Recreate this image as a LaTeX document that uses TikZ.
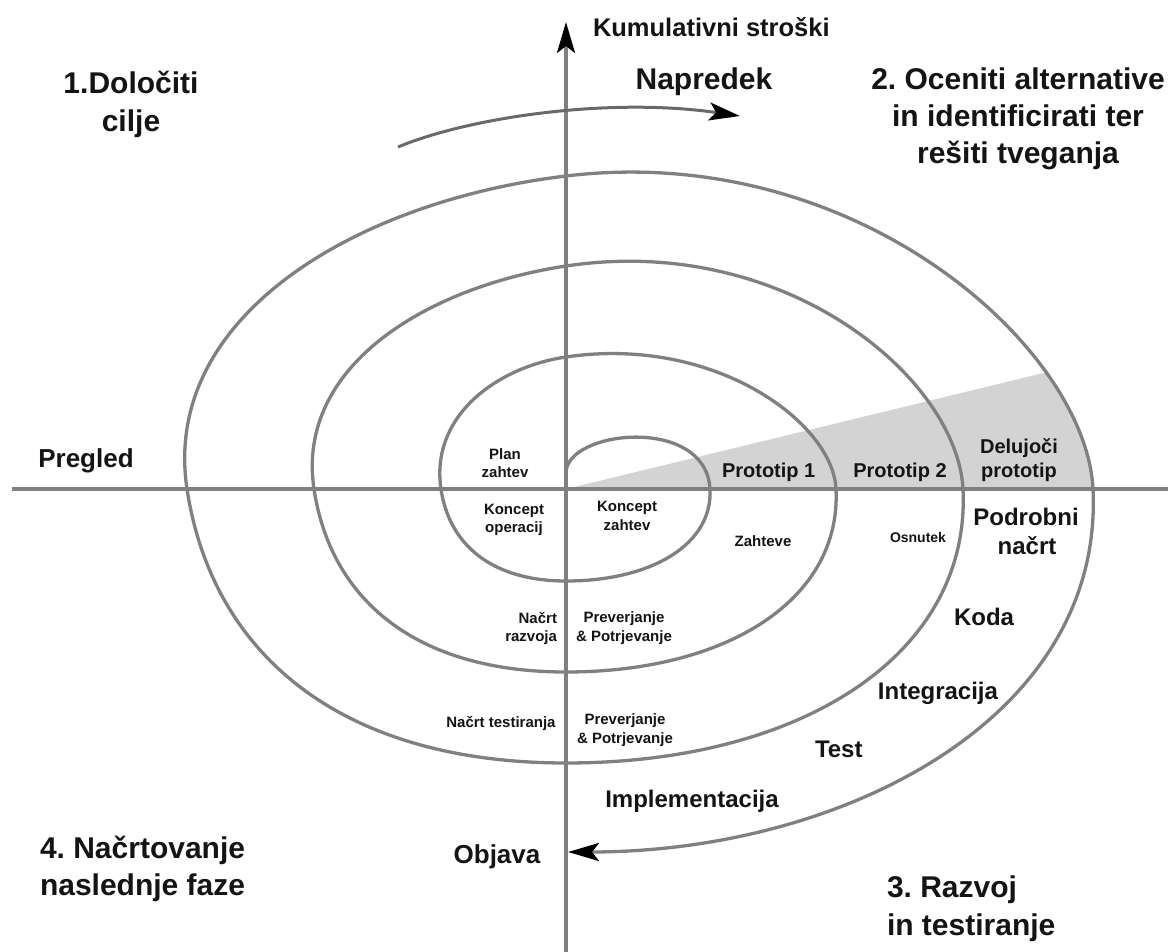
\documentclass[tikz,border=0pt]{standalone}
\usepackage{fontspec}
\setmainfont{Liberation Sans}
\usetikzlibrary{arrows.meta}
\definecolor{linegray}{RGB}{128,128,128}
\definecolor{wedgegray}{RGB}{211,211,211}
\definecolor{arrgray}{RGB}{105,105,105}
\definecolor{txt}{RGB}{20,20,20}
\tikzset{
  spiralline/.style={draw=linegray, line width=3.3pt},
  axisline/.style={draw=linegray, line width=3.6pt},
  progline/.style={draw=arrgray, line width=3pt},
  bighead/.style={-{Stealth[length=31pt,width=18pt,inset=7pt,color=black]}},
  lbl/.style={inner sep=0pt, outer sep=0pt, text=txt, anchor=base},
  fbig/.style={lbl, font=\bfseries\fontsize{30}{36}\selectfont},
  fcost/.style={lbl, font=\bfseries\fontsize{25.5}{30}\selectfont},
  frev/.style={lbl, font=\bfseries\fontsize{26}{31}\selectfont},
  fmid/.style={lbl, font=\bfseries\fontsize{24}{29}\selectfont},
  fproto/.style={lbl, font=\bfseries\fontsize{20}{24}\selectfont},
  fsmall/.style={lbl, font=\bfseries\fontsize{15}{18}\selectfont},
  ftiny/.style={lbl, font=\bfseries\fontsize{14}{17}\selectfont},
}
\frenchspacing
\begin{document}
\begin{tikzpicture}[x=1pt,y=-1pt]
\fill[white] (0,0) rectangle (1168,952);
\useasboundingbox (0,0) rectangle (1168,952);

% key coordinates
\coordinate (O) at (566,489);
\coordinate (ybot) at (566,952);
\coordinate (ytop) at (566,22);
\coordinate (xleft) at (12,489);
\coordinate (xright) at (1168,489);
\coordinate (progS) at (398,147);
\coordinate (progE) at (740,116);
\coordinate (spS) at (566,473);
\coordinate (spE) at (568,852);

% grey wedge (working prototypes)
\begin{scope}
  \clip (566,176) .. controls (857,141) and (1086,348) .. (1093,489) -- (O) -- cycle;
  \fill[wedgegray] (O) -- (1130,352) -- (1130,489) -- cycle;
\end{scope}

% axes
\draw[axisline] (xleft) -- (xright);
\draw[axisline, bighead] (ybot) -- (ytop);

% progress arrow
\draw[progline, bighead] (progS) .. controls (470,117) and (610,97) .. (progE);

% spiral
\draw[spiralline, bighead] (spS)
  .. controls (566,430) and (706,415) .. (710,489)
  .. controls (713,544) and (652,581) .. (566,581)
  .. controls (491,581) and (449,544) .. (441,489)
  .. controls (430,416) and (497,367) .. (566,357)
  .. controls (715,335) and (833,423) .. (836,489)
  .. controls (841.5,599) and (728,672) .. (566,672)
  .. controls (415,672) and (330.5,599) .. (314,489)
  .. controls (295.5,366) and (427,287) .. (566,266)
  .. controls (785,233) and (957,378) .. (963,489)
  .. controls (971,653) and (804,763) .. (566,763)
  .. controls (339,763) and (212,653) .. (187,489)
  .. controls (161,316) and (357,201) .. (566,176)
  .. controls (857,141) and (1086,348) .. (1093,489)
  .. controls (1104,720) and (840,852) .. (spE);

% quadrant titles
\node[fbig] (g1a) at (131,94) {1.Določiti};
\node[fbig] (g1b) at (131,132) {cilje};
\node[fbig] (prog) at (704,90) {Napredek};
\node[fbig] (g2a) at (1018,90) {2. Oceniti alternative};
\node[fbig] (g2b) at (1018,127) {in identificirati ter};
\node[fbig] (g2c) at (1018,164) {rešiti tveganja};
\node[fbig, anchor=base west] (g3a) at (887,897) {3. Razvoj};
\node[fbig, anchor=base west] (g3b) at (887,935) {in testiranje};
\node[fbig, anchor=base west] (g4a) at (40,858) {4. Načrtovanje};
\node[fbig, anchor=base west] (g4b) at (40,895) {naslednje faze};
\node[fcost, anchor=base west] (cost) at (593,37) {Kumulativni stroški};

% axis labels
\node[frev] (rev) at (86,467) {Pregled};
\node[frev] (rel) at (497,863) {Objava};

% development steps
\node[fmid] (impl) at (692,807) {Implementacija};
\node[fmid, anchor=base west] (test) at (815,757) {Test};
\node[fmid, anchor=base east] (integ) at (998,699) {Integracija};
\node[fmid] (code) at (984,625) {Koda};
\node[fmid] (dd1) at (1026,525) {Podrobni};
\node[fmid] (dd2) at (1027,554) {načrt};

% prototypes
\node[fproto, anchor=base west] (p1) at (722,477) {Prototip 1};
\node[fproto] (p2) at (900,477) {Prototip 2};
\node[fproto] (op1) at (1019,453) {Delujoči};
\node[fproto] (op2) at (1019,477) {prototip};

% small labels
\node[ftiny] (draft) at (918,542) {Osnutek};
\node[fsmall] (req) at (763,546) {Zahteve};
\node[fsmall] (rp1) at (505,459) {Plan};
\node[fsmall] (rp2) at (505,477) {zahtev};
\node[fsmall] (co1) at (514,514) {Koncept};
\node[fsmall] (co2) at (514,532) {operacij};
\node[fsmall] (cr1) at (627,511) {Koncept};
\node[fsmall] (cr2) at (627,530) {zahtev};
\node[fsmall, anchor=base east] (dp1) at (557,623) {Načrt};
\node[fsmall, anchor=base east] (dp2) at (557,641) {razvoja};
\node[fsmall] (vv1) at (624,622) {Preverjanje};
\node[fsmall] (vv2) at (624,641) {\& Potrjevanje};
\node[fsmall] (tp) at (501,727) {Načrt testiranja};
\node[fsmall] (vw1) at (625,724) {Preverjanje};
\node[fsmall] (vw2) at (625,743) {\& Potrjevanje};
\end{tikzpicture}
\end{document}
